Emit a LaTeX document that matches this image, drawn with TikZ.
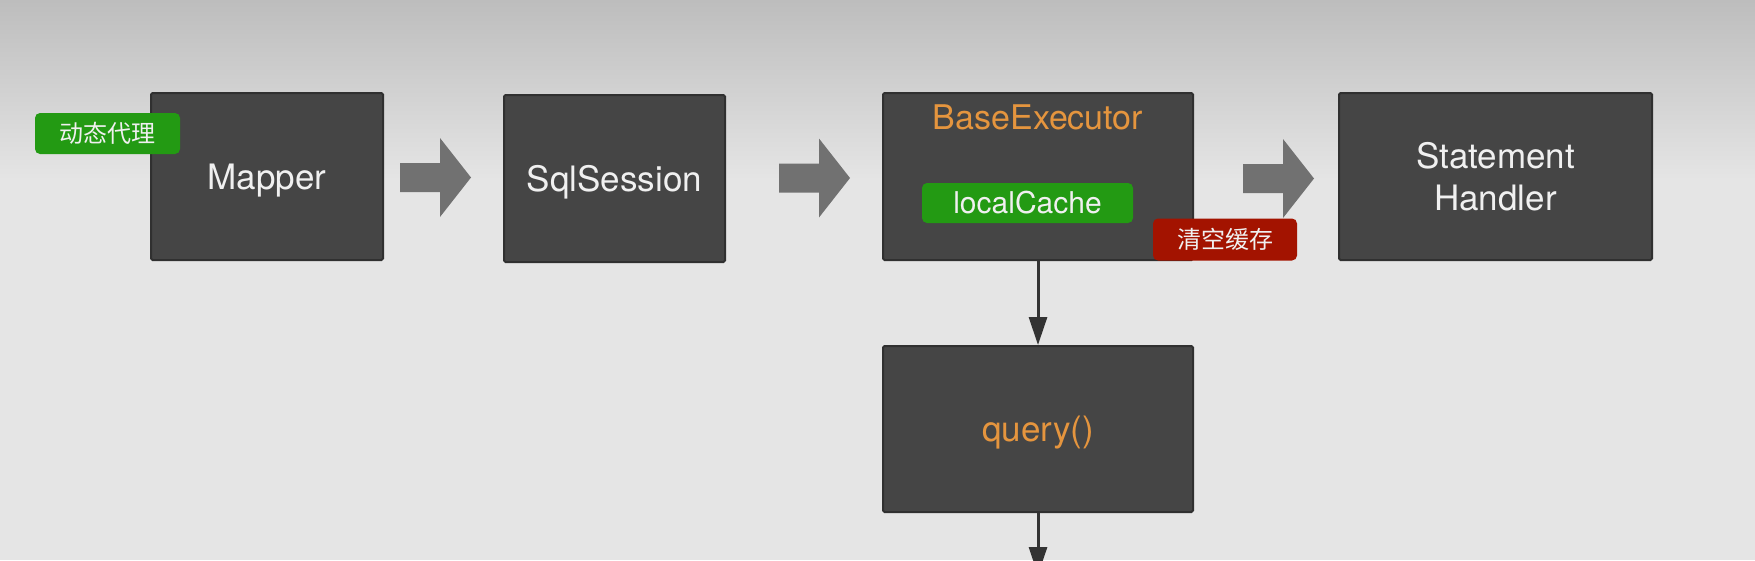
\documentclass[tikz,border=0pt]{standalone}
\usepackage{fontspec}
\setmainfont{TeX Gyre Heros}
\newfontfamily\cjk{Noto Sans CJK SC}
\usetikzlibrary{arrows.meta}
\definecolor{boxfill}{HTML}{454545}
\definecolor{boxline}{HTML}{303030}
\definecolor{txtwhite}{HTML}{F0F0F0}
\definecolor{orangetxt}{HTML}{E5953E}
\definecolor{taggreen}{HTML}{239A13}
\definecolor{tagred}{HTML}{A31300}
\definecolor{arrowgray}{HTML}{717171}
\definecolor{bgtop}{HTML}{BDBDBD}
\definecolor{bgmid}{HTML}{E5E5E5}
\definecolor{vline}{HTML}{333333}
\begin{document}
\begin{tikzpicture}[x=1pt,y=-1pt,
  box/.style={draw=boxline, fill=boxfill, line width=2pt, rounded corners=1.5pt,
    inner sep=0pt, text=txtwhite, align=center, font=\fontsize{35}{42}\selectfont},
  oneline/.style={text height=25pt, text depth=0pt},
  tag/.style={rounded corners=5pt, inner sep=0pt, text=txtwhite},
  orangelabel/.style={text=orangetxt, font=\fontsize{34}{40}\selectfont, inner sep=0pt},
  vconn/.style={draw=vline, line width=3pt, -{Triangle[width=18pt,length=28pt]}},
  barrow/.pic={\fill[arrowgray] (0,-14.5) -- (40,-14.5) -- (40,-39.5) -- (71,0) -- (40,39.5) -- (40,14.5) -- (0,14.5) -- cycle;}
]
\useasboundingbox (0,0) rectangle (1755,560);
\clip (0,0) rectangle (1755,560);
% background
\shade[top color=bgtop, bottom color=bgmid] (0,0) rectangle (1755,180);
\fill[bgmid] (0,179) rectangle (1755,560);

% boxes
\node[box, oneline, minimum width=232pt, minimum height=167pt] (mapper) at (267,176.5) {Mapper};
\node[box, oneline, minimum width=221pt, minimum height=167pt] (sql) at (614.5,178.5) {SqlSession};
\node[box, minimum width=310pt, minimum height=167pt] (base) at (1038,176.5) {};
\node[box, minimum width=313pt, minimum height=167pt] (stmt) at (1495.5,176.5) {Statement\\Handler};
\node[box, oneline, minimum width=310pt, minimum height=166pt, text=orangetxt] (query) at (1038,429) {query()};

% labels inside BaseExecutor
\node[orangelabel] (baselbl) at (1038,117) {BaseExecutor};
\node[tag, fill=taggreen, minimum width=211pt, minimum height=40pt,
  font=\fontsize{30}{36}\selectfont] (cache) at (1027.5,203) {localCache};

% tags
\node[tag, fill=taggreen, minimum width=145pt, minimum height=41pt,
  font=\cjk\fontsize{24}{28}\selectfont] (proxy) at (107.5,133.5) {动态代理};
\node[tag, fill=tagred, minimum width=144pt, minimum height=42pt,
  font=\cjk\fontsize{24}{28}\selectfont] (clear) at (1225,239.5) {清空缓存};

% block arrows
\pic at (400,177.5) {barrow};
\pic at (779,178) {barrow};
\pic at (1243,178.5) {barrow};

% vertical connectors
\coordinate (qout) at (1038,575);
\draw[vconn] (base.south) -- (query.north);
\draw[vconn] (query.south) -- (qout);
\end{tikzpicture}
\end{document}
